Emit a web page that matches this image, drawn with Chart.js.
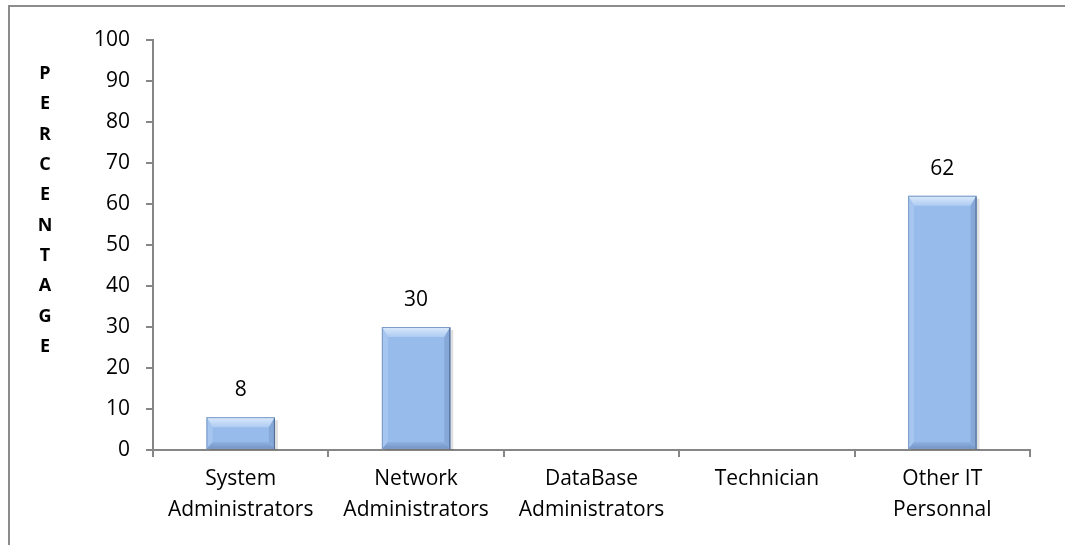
<!DOCTYPE html>
<html>
<head>
<meta charset="utf-8">
<script src="https://cdn.jsdelivr.net/npm/chart.js@4.4.1/dist/chart.umd.min.js"></script>
<style>
  html, body { margin: 0; padding: 0; background: #fff; overflow: hidden; }
  #frame {
    position: absolute; left: 8px; top: 5px;
    width: 2000px; height: 1000px;
    border-left: 2px solid #8c8c8c; border-top: 2px solid #8c8c8c;
  }
  #wrap { position: absolute; left: 0; top: 0; width: 1065px; height: 545px; }
</style>
</head>
<body>
<div id="frame"></div>
<div id="wrap"><canvas id="myChart"></canvas></div>
<script>
const categories = [
    ['System', 'Administrators'],
    ['Network', 'Administrators'],
    ['DataBase', 'Administrators'],
    ['Technician'],
    ['Other IT', 'Personnal']
];
const percentages = [8, 30, 0, 0, 62];
const yTicks = [0, 10, 20, 30, 40, 50, 60, 70, 80, 90, 100];
const yTitle = 'PERCENTAGE';

const FONT = "'Open Sans', 'Liberation Sans', sans-serif";

function poly(ctx, pts, fill) {
    ctx.fillStyle = fill;
    ctx.beginPath();
    ctx.moveTo(pts[0][0], pts[0][1]);
    for (let k = 1; k < pts.length; k++) ctx.lineTo(pts[k][0], pts[k][1]);
    ctx.closePath();
    ctx.fill();
}

// bevelled look of the bars, plus value labels over them
const barStyle = {
    id: 'barStyle',
    beforeDatasetsDraw(chart) {
        // shadow behind each bar
        const ctx = chart.ctx;
        chart.getDatasetMeta(0).data.forEach((bar, i) => {
            if (!percentages[i]) return;
            const l = bar.x - bar.width / 2, r = bar.x + bar.width / 2;
            ctx.save();
            ctx.fillStyle = 'rgba(0,0,0,0.12)';
            ctx.fillRect(l + 3, bar.y + 3, r - l, bar.base - bar.y - 2);
            ctx.restore();
        });
    },
    afterDatasetsDraw(chart) {
        const ctx = chart.ctx;
        const meta = chart.getDatasetMeta(0);
        meta.data.forEach((bar, i) => {
            const v = percentages[i];
            if (!v) return;
            const l = bar.x - bar.width / 2, r = bar.x + bar.width / 2;
            const t = bar.y, b = bar.base;
            const bt = 10, bs = 6, bb = 7;
            ctx.save();

            const gTop = ctx.createLinearGradient(0, t, 0, t + bt);
            gTop.addColorStop(0, '#dbeafb');
            gTop.addColorStop(1, '#aecbf2');
            poly(ctx, [[l, t], [r, t], [r - bs, t + bt], [l + bs, t + bt]], gTop);
            poly(ctx, [[l, t], [l + bs, t + bt], [l + bs, b - bb], [l, b]], '#a6c6f0');
            poly(ctx, [[r, t], [r - bs, t + bt], [r - bs, b - bb], [r, b]], '#86a8d8');
            const gBot = ctx.createLinearGradient(0, b - bb, 0, b);
            gBot.addColorStop(0, '#8eb1e2');
            gBot.addColorStop(1, '#7394c4');
            poly(ctx, [[l, b], [l + bs, b - bb], [r - bs, b - bb], [r, b]], gBot);

            // outline
            ctx.strokeStyle = '#7d9bc6';
            ctx.lineWidth = 1;
            ctx.strokeRect(l + 0.5, t + 0.5, r - l - 1, b - t - 1);
            ctx.strokeStyle = '#4f6a91';
            ctx.beginPath(); ctx.moveTo(r - 0.5, t + 1); ctx.lineTo(r - 0.5, b); ctx.stroke();

            // value label
            ctx.fillStyle = '#000';
            ctx.font = '21px ' + FONT;
            ctx.textAlign = 'center';
            ctx.textBaseline = 'middle';
            ctx.fillText(String(v), bar.x, t - 27);
            ctx.restore();
        });
    },
    afterDraw(chart) {
        // stacked letters of the y axis title
        const ctx = chart.ctx;
        ctx.save();
        ctx.fillStyle = '#000';
        ctx.font = 'bold 18px ' + FONT;
        ctx.textAlign = 'center';
        ctx.textBaseline = 'middle';
        yTitle.split('').forEach((ch, i) => {
            ctx.fillText(ch, 45, 74 + i * 30.3);
        });
        ctx.restore();
    }
};

new Chart('myChart', {
    type: 'bar',
    data: {
        labels: categories,
        datasets: [{
            data: percentages,
            backgroundColor: '#97bcec',
            borderWidth: 0,
            barPercentage: 0.39,
            categoryPercentage: 1
        }]
    },
    options: {
        responsive: true,
        maintainAspectRatio: false,
        animation: false,
        layout: { padding: { top: 40, right: 35, left: 0, bottom: 0 } },
        plugins: {
            legend: { display: false },
            tooltip: { enabled: false }
        },
        scales: {
            x: {
                afterFit(scale) { scale.height = 95; },
                grid: {
                    drawOnChartArea: false,
                    tickLength: 7,
                    color: '#868686',
                    lineWidth: 2
                },
                border: { color: '#868686', width: 2 },
                ticks: {
                    color: '#000',
                    padding: 7,
                    maxRotation: 0,
                    autoSkip: false,
                    font: { family: FONT, size: 21, lineHeight: 1.45 }
                }
            },
            y: {
                min: 0,
                max: 100,
                afterFit(scale) { scale.width = 153; },
                afterBuildTicks(scale) { scale.ticks = yTicks.map(v => ({ value: v })); },
                grid: {
                    drawOnChartArea: false,
                    tickLength: 7,
                    color: '#868686',
                    lineWidth: 2
                },
                border: { color: '#868686', width: 2 },
                ticks: {
                    color: '#000',
                    padding: 16,
                    font: { family: FONT, size: 21 }
                }
            }
        }
    },
    plugins: [barStyle]
});
</script>
</body>
</html>
